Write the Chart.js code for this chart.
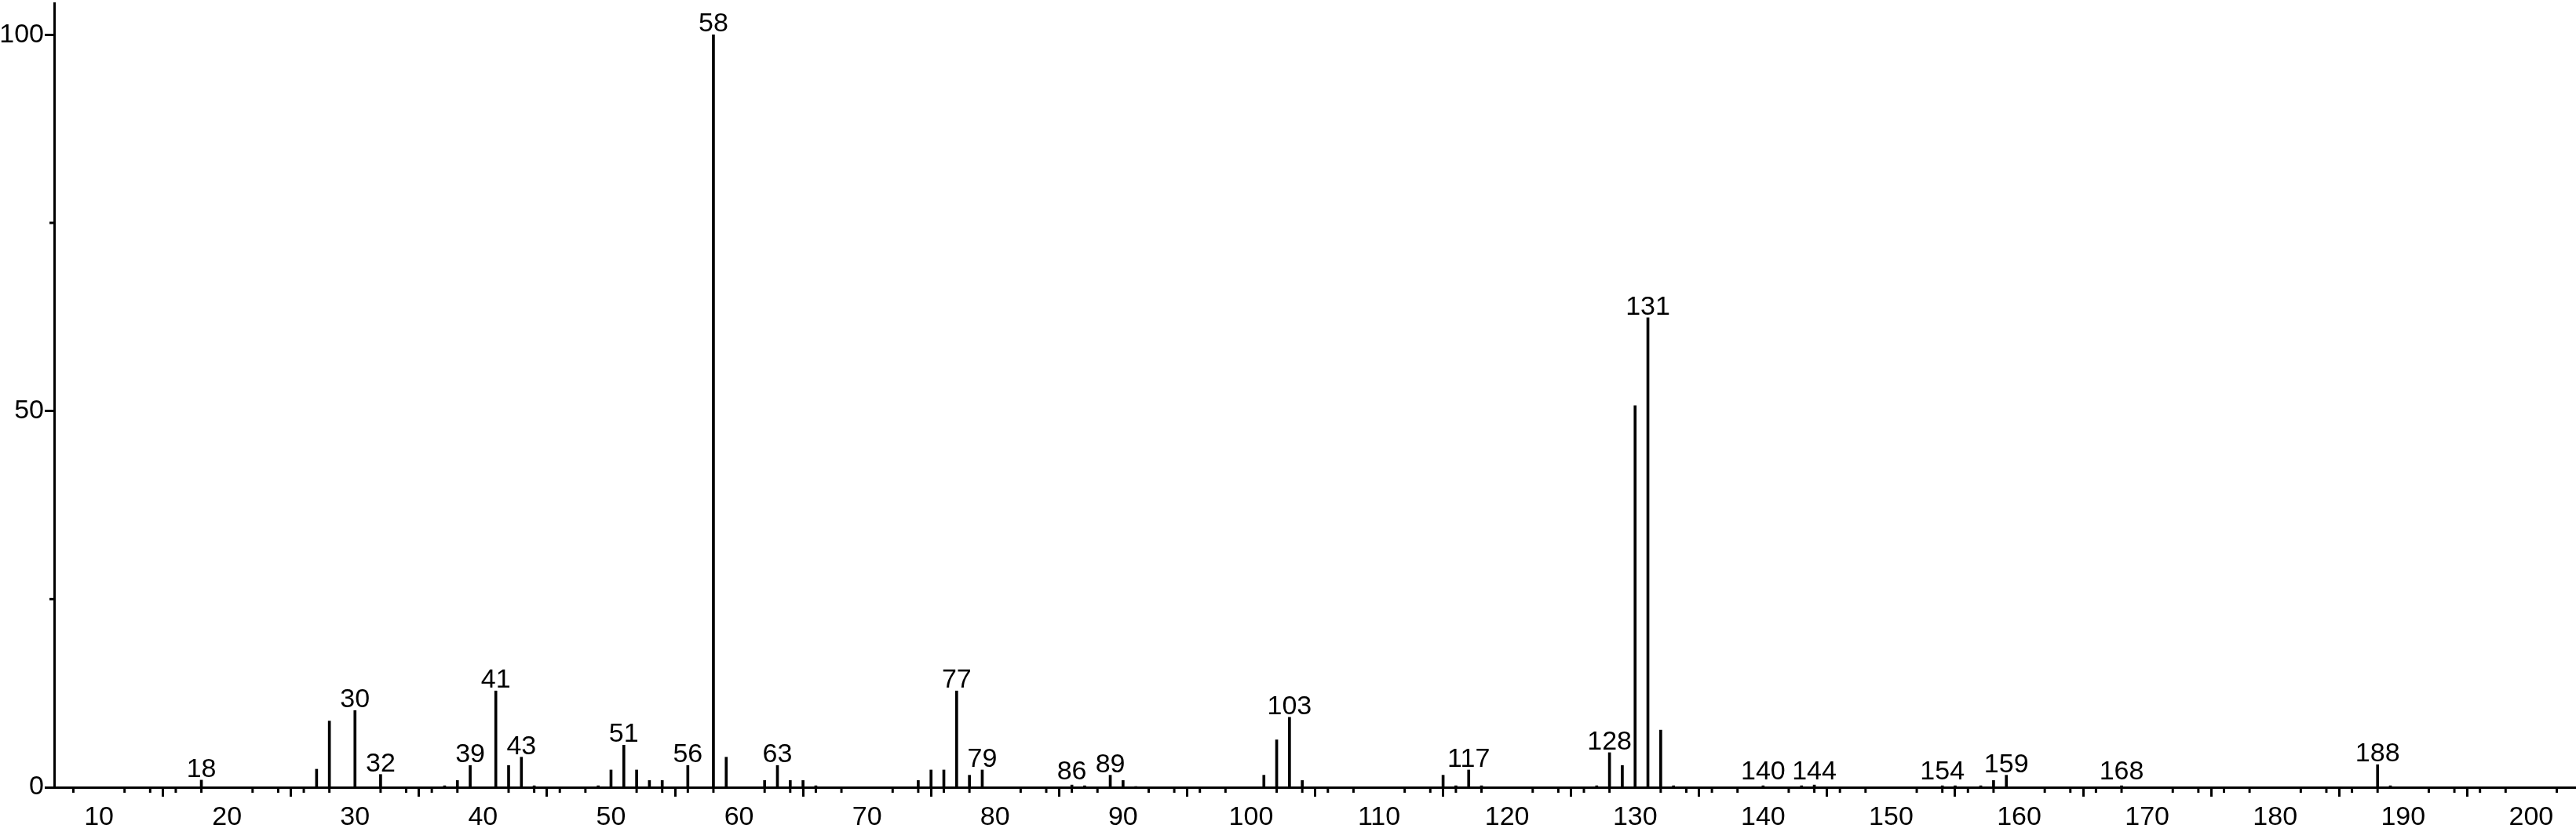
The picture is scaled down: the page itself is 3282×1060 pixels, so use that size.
<!DOCTYPE html>
<html lang="en">
<head>
    <meta charset="UTF-8">
    <title>Mass spectrum</title>
    <script src="https://cdn.jsdelivr.net/npm/chart.js"></script>
<style>
    body{margin:0; background:#fff;}
    #wrap{width:3282px; height:1060px; position:relative;}
</style>
</head>
<body>
    <div id="wrap">
        <canvas id="myChart"></canvas>
    </div>
    <script>
        // m/z values and relative intensity (%)
        const mzArr = [18, 27, 28, 30, 32, 37, 38, 39, 41, 42, 43, 44, 49, 50, 51, 52, 53, 54, 56, 58,
                       59, 62, 63, 64, 65, 66, 74, 75, 76, 77, 78, 79, 86, 87, 89, 90, 91, 101, 102, 103,
                       104, 115, 116, 117, 118, 127, 128, 129, 130, 131, 132, 133, 140, 143, 144, 154, 155, 157, 158, 159,
                       168, 188, 189];
        const intArr = [0.95, 2.4, 8.8, 10.2, 1.7, 0.2, 0.9, 2.9, 12.8, 2.9, 4.0, 0.2, 0.2, 2.3, 5.6, 2.3, 0.9, 0.9, 2.9, 100,
                        4.0, 0.9, 2.9, 0.9, 0.9, 0.2, 0.9, 2.3, 2.3, 12.8, 1.6, 2.3, 0.3, 0.2, 1.6, 0.9, 0.1, 1.6, 6.3, 9.3,
                        0.9, 1.6, 0.2, 2.3, 0.2, 0.2, 4.6, 2.9, 50.7, 62.4, 7.6, 0.2, 0.2, 0.2, 0.3, 0.2, 0.2, 0.2, 0.9, 1.6,
                        0.2, 3.0, 0.2];
        // peaks that carry a label
        const labelArr = [18, 30, 32, 39, 41, 43, 51, 56, 58, 63, 77, 79, 86, 89, 103, 117, 128, 131, 140, 144, 154, 159, 168, 188];
        const xTicks = [10, 20, 30, 40, 50, 60, 70, 80, 90, 100, 110, 120, 130, 140, 150, 160, 170, 180, 190, 200];
        const yTicks = [0, 50, 100];
        const yMinor = [25, 75];

        let xMinor = [];
        for (let v = 8; v <= 202; v += 2) { if (v % 10 != 0) xMinor.push(v); }

        const FONT = {family: '"Liberation Sans", Arial, sans-serif', size: 34};

        // short ticks between the labelled ones
        const minorTicks = {
            id: 'minorTicks',
            afterDraw(chart) {
                const c = chart.ctx, xs = chart.scales.x, ys = chart.scales.y;
                c.save();
                c.strokeStyle = '#000';
                c.lineWidth = 3;
                xMinor.forEach(function(v){
                    const px = xs.getPixelForValue(v);
                    c.beginPath(); c.moveTo(px, xs.top); c.lineTo(px, xs.top + 7); c.stroke();
                });
                yMinor.forEach(function(v){
                    const py = ys.getPixelForValue(v);
                    c.beginPath(); c.moveTo(ys.right, py); c.lineTo(ys.right - 6, py); c.stroke();
                });
                c.restore();
            }
        };

        // m/z text above the labelled peaks
        const peakLabels = {
            id: 'peakLabels',
            afterDatasetsDraw(chart) {
                const c = chart.ctx;
                const meta = chart.getDatasetMeta(0);
                c.save();
                c.fillStyle = '#000';
                c.font = FONT.size + 'px ' + FONT.family;
                c.textAlign = 'center';
                c.textBaseline = 'alphabetic';
                mzArr.forEach(function(mz, i){
                    if (labelArr.indexOf(mz) < 0) return;
                    const el = meta.data[i];
                    const top = Math.min(el.y, el.base - 6);
                    c.fillText(String(mz), el.x, top - 4);
                });
                c.restore();
            }
        };

        const ctx = document.getElementById('myChart');
        new Chart(ctx, {
            type: 'bar',
            data: {
                datasets: [{
                    data: mzArr.map(function(m, i){ return {x: m, y: intArr[i]}; }),
                    backgroundColor: '#000',
                    borderWidth: 0,
                    barThickness: 3
                }]
            },
            options: {
                responsive: true,
                maintainAspectRatio: false,
                animation: false,
                layout: {padding: {top: 4, right: 0, left: 0, bottom: 0}},
                plugins: {legend: {display: false}, tooltip: {enabled: false}},
                scales: {
                    x: {
                        type: 'linear',
                        min: 6.5,
                        max: 203.5,
                        offset: false,
                        afterBuildTicks: function(scale){ scale.ticks = xTicks.map(function(v){ return {value: v}; }); },
                        afterFit: function(scale){ scale.height = 57; scale.paddingLeft = 0; scale.paddingRight = 0; },
                        grid: {drawOnChartArea: false, drawTicks: true, tickLength: 12, tickWidth: 3, tickColor: '#000'},
                        border: {display: true, color: '#000', width: 3},
                        ticks: {color: '#000', font: FONT, padding: 6, maxRotation: 0, autoSkip: false}
                    },
                    y: {
                        min: 0,
                        max: 104.2,
                        afterBuildTicks: function(scale){ scale.ticks = yTicks.map(function(v){ return {value: v}; }); },
                        afterFit: function(scale){ scale.width = 69; scale.paddingTop = 0; scale.paddingBottom = 0; },
                        grid: {drawOnChartArea: false, drawTicks: true, tickLength: 12, tickWidth: 3, tickColor: '#000'},
                        border: {display: true, color: '#000', width: 3},
                        ticks: {color: '#000', font: FONT, padding: 1, autoSkip: false}
                    }
                }
            },
            plugins: [minorTicks, peakLabels]
        });
    </script>
</body>
</html>
